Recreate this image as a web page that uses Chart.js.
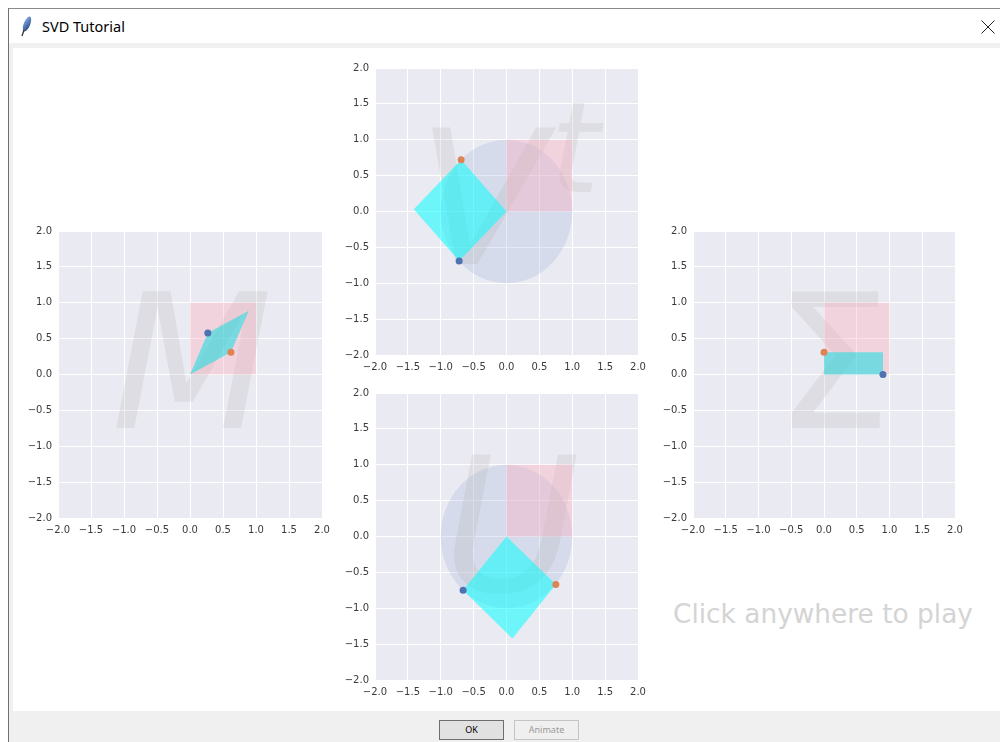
<!DOCTYPE html>
<html>
  <head>
    <title>SVD Tutorial</title>
    <script src="https://cdn.jsdelivr.net/npm/chart.js"></script>
    <style>
      body {
        margin: 0;
        width: 1000px;
        height: 742px;
        position: relative;
        overflow: hidden;
        background: #fff;
        font-family: 'Noto Sans', sans-serif;
      }
      .abs { position: absolute; }
      #frame {
        left: 8px; top: 8px; width: 992px; height: 734px;
        border-left: 1px solid #707070; border-top: 1px solid #8a8a8a;
        background: #f0f0f0; box-sizing: border-box;
      }
      #titlebar { left: 9px; top: 9px; width: 991px; height: 34px; background: #fff; }
      #title { left: 42px; top: 17px; font-size: 14.5px; line-height: 19px; color: #000; }
      #content { left: 13px; top: 48px; width: 987px; height: 663px; background: #fff; }
      .btn {
        top: 720px; width: 65px; height: 20px; box-sizing: border-box;
        font-size: 9px; line-height: 18px; text-align: center;
      }
      #ok { left: 439px; border: 1px solid #6e6e6e; background: #e1e1e1; color: #000; }
      #animate { left: 514px; border: 1px solid #c4c4c4; background: #efefef; color: #9a9a9a; }
      #hint {
        left: 673px; top: 599px; font-family: 'DejaVu Sans', sans-serif;
        font-size: 26.4px; line-height: 30px; color: #d4d4d4; white-space: nowrap;
      }
      canvas { position: absolute; }
    </style>
  </head>
  <body>
    <div id="frame" class="abs"></div>
    <div id="titlebar" class="abs"></div>
    <svg class="abs" style="left:19px;top:16px" width="14" height="22" viewBox="0 0 14 22">
      <defs>
        <linearGradient id="fg" x1="0" y1="0" x2="1" y2="1">
          <stop offset="0" stop-color="#8fb4ea"/>
          <stop offset="1" stop-color="#1d3f7c"/>
        </linearGradient>
      </defs>
      <ellipse cx="8" cy="8" rx="3.2" ry="8" transform="rotate(22 8 8)" fill="url(#fg)"/>
      <line x1="5" y1="14" x2="3" y2="20" stroke="#333" stroke-width="1.3"/>
    </svg>
    <div id="title" class="abs">SVD Tutorial</div>
    <svg class="abs" style="left:981px;top:20px" width="14" height="14">
      <line x1="0.5" y1="0.5" x2="13.5" y2="13.5" stroke="#222" stroke-width="1"/>
      <line x1="13.5" y1="0.5" x2="0.5" y2="13.5" stroke="#222" stroke-width="1"/>
    </svg>
    <div id="content" class="abs"></div>
    <div id="hint" class="abs">Click anywhere to play</div>
    <div id="ok" class="abs btn">OK</div>
    <div id="animate" class="abs btn">Animate</div>

    <script>
      // axis range shared by the four panels
      const axisMin = -2
      const axisMax = 2
      const tickStep = 0.5

      // unit square and unit circle drawn behind the transformed shapes
      const unitSquareX = [0, 1, 1, 0]
      const unitSquareY = [0, 0, 1, 1]
      const circleCenter = [0, 0]
      const circleRadius = 1

      // M applied to the unit square
      const mShapeX = [0, 0.27, 0.89, 0.62]
      const mShapeY = [0, 0.58, 0.89, 0.31]
      const mBlue = [0.27, 0.58]
      const mOrange = [0.62, 0.31]

      // Vt (rotation)
      const vtShapeX = [0, -0.72, -1.41, -0.69]
      const vtShapeY = [0, -0.69, 0.03, 0.72]
      const vtBlue = [-0.72, -0.69]
      const vtOrange = [-0.69, 0.72]

      // Sigma (scaling)
      const sigmaShapeX = [0, 0.9, 0.9, 0]
      const sigmaShapeY = [0, 0, 0.31, 0.31]
      const sigmaBlue = [0.9, 0]
      const sigmaOrange = [0, 0.31]

      // U (rotation)
      const uShapeX = [0, -0.66, 0.09, 0.75]
      const uShapeY = [0, -0.75, -1.42, -0.67]
      const uBlue = [-0.66, -0.75]
      const uOrange = [0.75, -0.67]

      const panels = [
        { left: 58, top: 229, w: 264, h: 289, letter: 'M', italic: true, at: [0.03, -0.74], circle: false,
          sx: mShapeX, sy: mShapeY, blue: mBlue, orange: mOrange, fill: 'rgba(0,225,225,0.5)' },
        { left: 375, top: 66, w: 263, h: 289, letter: 'V', sup: 't', supAt: [0.66, 0.27], italic: true,
          at: [-0.38, -0.73], circle: true,
          sx: vtShapeX, sy: vtShapeY, blue: vtBlue, orange: vtOrange, fill: 'rgba(0,255,255,0.53)' },
        { left: 693, top: 229, w: 262, h: 289, letter: 'Σ', italic: false, at: [0.13, -0.74], circle: false,
          sx: sigmaShapeX, sy: sigmaShapeY, blue: sigmaBlue, orange: sigmaOrange, fill: 'rgba(0,225,225,0.5)' },
        { left: 375, top: 391, w: 263, h: 289, letter: 'U', italic: true, at: [0.08, -0.76], circle: true,
          sx: uShapeX, sy: uShapeY, blue: uBlue, orange: uOrange, fill: 'rgba(0,255,255,0.53)' }
      ]

      // background, unit circle and the big faded letter
      const decor = {
        id: 'decor',
        beforeDraw(chart) {
          const { ctx, chartArea: a } = chart
          ctx.save()
          ctx.fillStyle = '#EAEAF2'
          ctx.fillRect(a.left, a.top, a.width, a.height)
          ctx.restore()
        },
        beforeDatasetsDraw(chart, args, o) {
          const { ctx, chartArea: a, scales: { x, y } } = chart
          ctx.save()
          ctx.beginPath()
          ctx.rect(a.left, a.top, a.width, a.height)
          ctx.clip()
          if (o.circle) {
            const cx = x.getPixelForValue(circleCenter[0])
            const cy = y.getPixelForValue(circleCenter[1])
            const rx = Math.abs(x.getPixelForValue(circleCenter[0] + circleRadius) - cx)
            const ry = Math.abs(y.getPixelForValue(circleCenter[1] + circleRadius) - cy)
            ctx.fillStyle = 'rgba(170,185,220,0.3)'
            ctx.beginPath()
            ctx.ellipse(cx, cy, rx, ry, 0, 0, Math.PI * 2)
            ctx.fill()
          }
          const style = o.italic ? 'italic ' : ''
          ctx.fillStyle = 'rgba(170,170,170,0.2)'
          ctx.textBaseline = 'alphabetic'
          ctx.font = style + '187px "DejaVu Sans"'
          ctx.textAlign = 'center'
          ctx.fillText(o.letter, x.getPixelForValue(o.at[0]), y.getPixelForValue(o.at[1]))
          if (o.sup) {
            // superscript t of the transpose
            ctx.font = style + '127px "DejaVu Sans"'
            ctx.textAlign = 'left'
            ctx.fillText(o.sup, x.getPixelForValue(o.supAt[0]), y.getPixelForValue(o.supAt[1]))
          }
          ctx.restore()
        }
      }

      const toPoints = (xs, ys) => {
        const pts = xs.map((v, i) => ({ x: v, y: ys[i] }))
        return pts.concat([pts[0]])
      }

      const axisOptions = isX => ({
        type: 'linear',
        min: axisMin,
        max: axisMax,
        ticks: {
          stepSize: tickStep,
          autoSkip: false,
          maxRotation: 0,
          padding: 6,
          color: '#3a3a3a',
          font: { family: 'DejaVu Sans', size: 10 },
          callback: v => Number(v).toFixed(1).replace('-', '\u2212')
        },
        grid: { color: '#ffffff', lineWidth: 1, drawTicks: false },
        border: { display: false },
        afterFit: s => {
          if (isX) s.height = 22
          else s.width = 44
        }
      })

      panels.forEach(p => {
        const canvas = document.createElement('canvas')
        canvas.width = p.w + 58
        canvas.height = p.h + 32
        canvas.style.left = p.left - 44 + 'px'
        canvas.style.top = p.top - 10 + 'px'
        canvas.style.width = canvas.width + 'px'
        canvas.style.height = canvas.height + 'px'
        document.body.appendChild(canvas)

        new Chart(canvas, {
          type: 'scatter',
          data: {
            datasets: [
              {
                data: [{ x: p.blue[0], y: p.blue[1] }],
                pointRadius: 3.5,
                pointBackgroundColor: '#4C72B0',
                pointBorderWidth: 0,
                order: 0
              },
              {
                data: [{ x: p.orange[0], y: p.orange[1] }],
                pointRadius: 3.5,
                pointBackgroundColor: '#DD8452',
                pointBorderWidth: 0,
                order: 0
              },
              {
                data: toPoints(p.sx, p.sy),
                showLine: true,
                fill: 'shape',
                backgroundColor: p.fill,
                borderColor: 'transparent',
                borderWidth: 0,
                pointRadius: 0,
                order: 1
              },
              {
                data: toPoints(unitSquareX, unitSquareY),
                showLine: true,
                fill: 'shape',
                backgroundColor: 'rgba(255,170,185,0.35)',
                borderColor: 'transparent',
                borderWidth: 0,
                pointRadius: 0,
                order: 2
              }
            ]
          },
          options: {
            responsive: false,
            animation: false,
            events: [],
            layout: { padding: { top: 10, right: 14, left: 0, bottom: 0 } },
            scales: { x: axisOptions(true), y: axisOptions(false) },
            plugins: {
              legend: { display: false },
              tooltip: { enabled: false },
              decor: { letter: p.letter, sup: p.sup, supAt: p.supAt, italic: p.italic, at: p.at, circle: p.circle }
            }
          },
          plugins: [decor]
        })
      })
    </script>
  </body>
</html>
